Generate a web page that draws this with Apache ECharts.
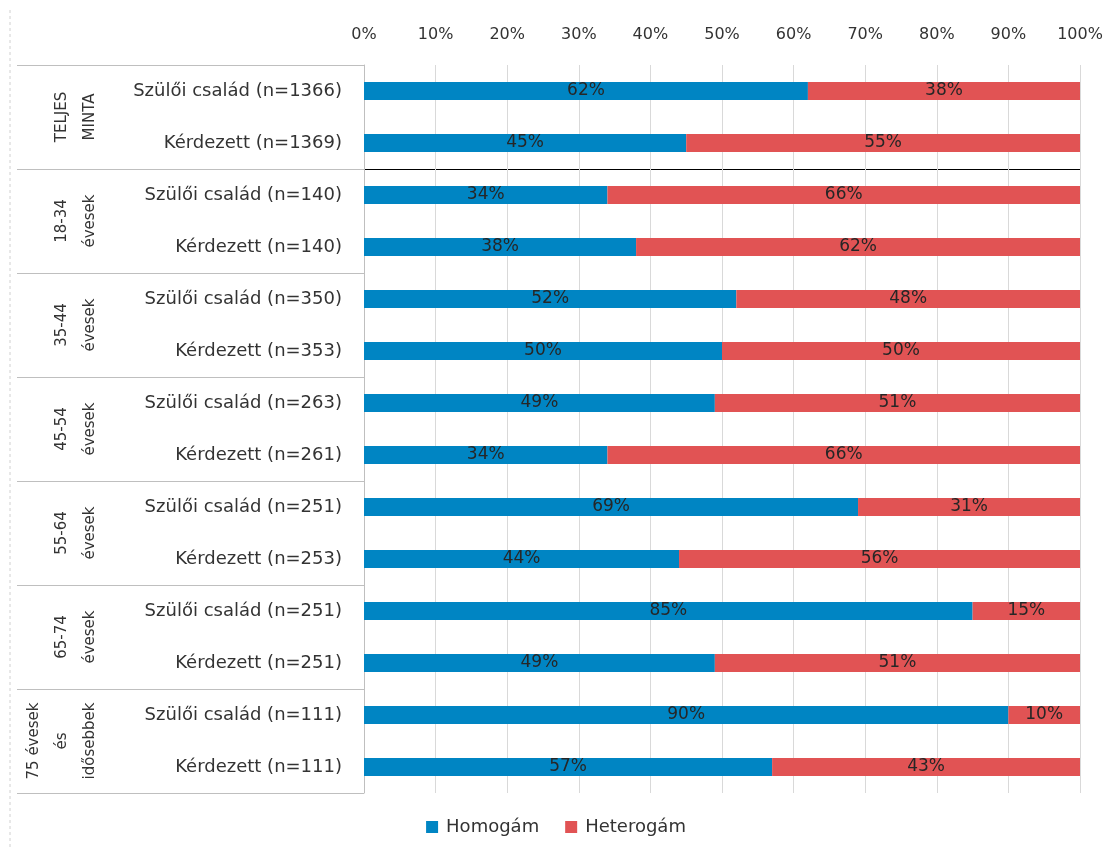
<!DOCTYPE html>
<html>
<head>
<meta charset="utf-8">
<script src="https://cdn.jsdelivr.net/npm/echarts@6/dist/echarts.min.js"></script>
<style>
  html, body { margin: 0; padding: 0; background: #fff; }
  #chart { width: 1112px; height: 849px; }
</style>
</head>
<body>
<div id="chart"></div>
<script>
// sorok (kategóriák)
const rows = [
  "Szülői család (n=1366)", "Kérdezett (n=1369)",
  "Szülői család (n=140)", "Kérdezett (n=140)",
  "Szülői család (n=350)", "Kérdezett (n=353)",
  "Szülői család (n=263)", "Kérdezett (n=261)",
  "Szülői család (n=251)", "Kérdezett (n=253)",
  "Szülői család (n=251)", "Kérdezett (n=251)",
  "Szülői család (n=111)", "Kérdezett (n=111)"
]
// korcsoportok (az utolsónál üres sor a középre igazítás miatt)
const groups = [
  "TELJES\nMINTA", "18-34\névesek", "35-44\névesek", "45-54\névesek",
  "55-64\névesek", "65-74\névesek", "75 évesek\nés\nidősebbek\n"
]
const homogam = [62, 45, 34, 38, 52, 50, 49, 34, 69, 44, 85, 49, 90, 57]
const heterogam = [38, 55, 66, 62, 48, 50, 51, 66, 31, 56, 15, 51, 10, 43]
const xTicks = [0, 100, 10]

const font = "DejaVu Sans"
const chart = echarts.init(document.getElementById("chart"))

const barLabel = {
  show: true,
  position: "inside",
  formatter: "{c}%",
  color: "#262626",
  fontFamily: font,
  fontSize: 17
}

chart.setOption({
  animation: false,
  grid: { left: 364, right: 32, top: 65, height: 728 },
  legend: {
    bottom: 8,
    left: "center",
    icon: "rect",
    itemWidth: 12,
    itemHeight: 12,
    itemGap: 26,
    textStyle: { fontFamily: font, fontSize: 18, color: "#333", padding: [0, 0, 0, 3] }
  },
  xAxis: {
    type: "value",
    position: "top",
    min: xTicks[0],
    max: xTicks[1],
    interval: xTicks[2],
    axisLabel: { formatter: "{value}%", margin: 22, fontFamily: font, fontSize: 16, color: "#333" },
    axisLine: { show: false },
    axisTick: { show: false },
    splitLine: { lineStyle: { color: "#d9d9d9" } }
  },
  yAxis: [
    {
      type: "category",
      inverse: true,
      data: rows,
      axisLine: { lineStyle: { color: "#bfbfbf" } },
      axisTick: { show: false },
      axisLabel: { margin: 22, fontFamily: font, fontSize: 18, color: "#333" }
    },
    {
      type: "category",
      inverse: true,
      position: "left",
      data: groups,
      axisLine: { show: false },
      axisTick: { show: true, length: 347, lineStyle: { color: "#bfbfbf" } },
      axisLabel: {
        rotate: 90,
        margin: 288,
        align: "center",
        verticalAlign: "middle",
        lineHeight: 28,
        fontFamily: font,
        fontSize: 15,
        color: "#333"
      }
    }
  ],
  graphic: [
    {
      id: "frame",
      type: "line",
      shape: { x1: 10, y1: 10, x2: 10, y2: 849 },
      style: { stroke: "#d0d0d0", lineDash: [3, 3] }
    }
  ],
  series: [
    {
      name: "Homogám",
      type: "bar",
      stack: "total",
      barWidth: 18,
      data: homogam,
      itemStyle: { color: "#0085c3" },
      label: barLabel
    },
    {
      name: "Heterogám",
      type: "bar",
      stack: "total",
      barWidth: 18,
      data: heterogam,
      itemStyle: { color: "#e15354" },
      label: barLabel
    }
  ]
})

// fekete elválasztó vonal a teljes minta és a korcsoportok között
const yA = chart.convertToPixel({ yAxisIndex: 0 }, rows[1])
const yB = chart.convertToPixel({ yAxisIndex: 0 }, rows[2])
const ySep = Math.round((yA + yB) / 2) + 0.5
const xL = chart.convertToPixel({ xAxisIndex: 0 }, xTicks[0])
const xR = chart.convertToPixel({ xAxisIndex: 0 }, xTicks[1])
chart.setOption({
  graphic: [
    {
      id: "sep",
      type: "line",
      shape: { x1: xL, y1: ySep, x2: xR, y2: ySep },
      style: { stroke: "#000", lineWidth: 1 }
    }
  ]
})
</script>
</body>
</html>
